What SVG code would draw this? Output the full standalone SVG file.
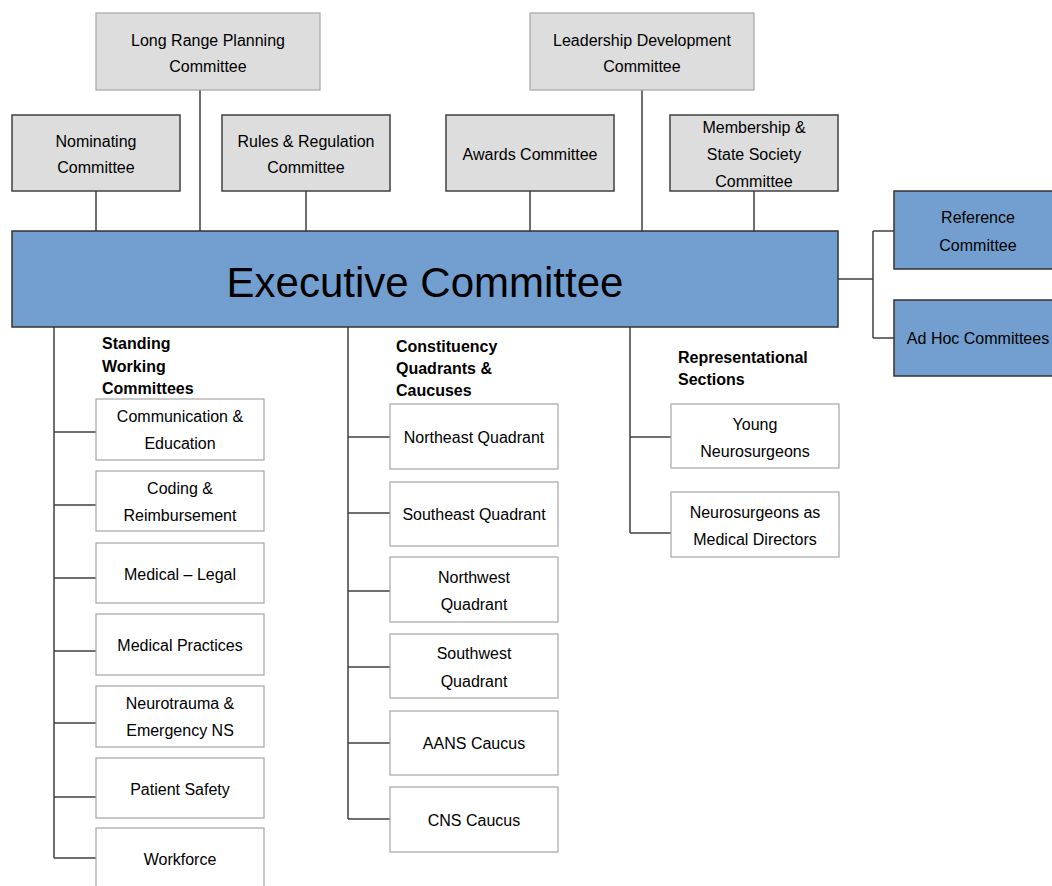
<svg xmlns="http://www.w3.org/2000/svg" width="1052" height="886" viewBox="0 0 1052 886">
<style>
text{font-family:"Liberation Sans",Arial,sans-serif;font-size:16px;fill:#000;text-anchor:middle}
.h{font-weight:bold;text-anchor:start}
.g1{fill:#dddddd;stroke:#a6a6a6;stroke-width:1.2}
.g2{fill:#dddddd;stroke:#404040;stroke-width:1.5}
.b{fill:#729fcf;stroke:#333333;stroke-width:1.5}
.w{fill:#ffffff;stroke:#a6a6a6;stroke-width:1.2}
.c{stroke:#404040;stroke-width:1.5;fill:none}
</style>
<rect width="1052" height="886" fill="#ffffff"/>
<g id="connectors">
<path class="c" d="M96 191V231M200 90V231M306 191V231M530 191V231M642 90V231M754 191V231"/>
<path class="c" d="M838 279H873M873 231V338M873 231H894M873 338H894"/>
<path class="c" d="M54 327V858M54 432H96M54 505H96M54 578H96M54 651H96M54 723H96M54 797H96M54 858H96"/>
<path class="c" d="M348 327V819M348 437H390M348 513H390M348 591H390M348 667H390M348 743H390M348 819H390"/>
<path class="c" d="M630 327V533M630 437H671M630 533H671"/>
</g>
<g id="long-range"><rect class="g1" x="96" y="13" width="224" height="77"/><text x="208" y="46">Long Range Planning</text><text x="208" y="72">Committee</text></g>
<g id="leadership"><rect class="g1" x="530" y="13" width="224" height="77"/><text x="642" y="46">Leadership Development</text><text x="642" y="72">Committee</text></g>
<g id="nominating"><rect class="g2" x="12" y="115" width="168" height="76"/><text x="96" y="147">Nominating</text><text x="96" y="173">Committee</text></g>
<g id="rules"><rect class="g2" x="222" y="115" width="168" height="76"/><text x="306" y="147">Rules &amp; Regulation</text><text x="306" y="173">Committee</text></g>
<g id="awards"><rect class="g2" x="446" y="115" width="168" height="76"/><text x="530" y="160">Awards Committee</text></g>
<g id="membership"><rect class="g2" x="670" y="115" width="168" height="76"/><text x="754" y="133">Membership &amp;</text><text x="754" y="160">State Society</text><text x="754" y="187">Committee</text></g>
<g id="executive"><rect class="b" x="12" y="231" width="826" height="96"/><text x="425" y="297" style="font-size:42px">Executive Committee</text></g>
<g id="reference"><rect class="b" x="894" y="191" width="170" height="78"/><text x="978" y="223">Reference</text><text x="978" y="251">Committee</text></g>
<g id="adhoc"><rect class="b" x="894" y="300" width="170" height="76"/><text x="978" y="344">Ad Hoc Committees</text></g>
<g id="standing-heading"><text class="h" x="102" y="349">Standing</text><text class="h" x="102" y="372">Working</text><text class="h" x="102" y="394">Committees</text></g>
<g id="communication"><rect class="w" x="96" y="399" width="168" height="61"/><text x="180" y="422">Communication &amp;</text><text x="180" y="449">Education</text></g>
<g id="coding"><rect class="w" x="96" y="471" width="168" height="60"/><text x="180" y="494">Coding &amp;</text><text x="180" y="521">Reimbursement</text></g>
<g id="medical-legal"><rect class="w" x="96" y="543" width="168" height="60"/><text x="180" y="580">Medical – Legal</text></g>
<g id="medical-practices"><rect class="w" x="96" y="614" width="168" height="61"/><text x="180" y="651">Medical Practices</text></g>
<g id="neurotrauma"><rect class="w" x="96" y="686" width="168" height="61"/><text x="180" y="709">Neurotrauma &amp;</text><text x="180" y="736">Emergency NS</text></g>
<g id="patient-safety"><rect class="w" x="96" y="758" width="168" height="60"/><text x="180" y="795">Patient Safety</text></g>
<g id="workforce"><rect class="w" x="96" y="828" width="168" height="70"/><text x="180" y="865">Workforce</text></g>
<g id="constituency-heading"><text class="h" x="396" y="352">Constituency</text><text class="h" x="396" y="374">Quadrants &amp;</text><text class="h" x="396" y="396">Caucuses</text></g>
<g id="northeast"><rect class="w" x="390" y="404" width="168" height="65"/><text x="474" y="443">Northeast Quadrant</text></g>
<g id="southeast"><rect class="w" x="390" y="482" width="168" height="64"/><text x="474" y="520">Southeast Quadrant</text></g>
<g id="northwest"><rect class="w" x="390" y="557" width="168" height="65"/><text x="474" y="583">Northwest</text><text x="474" y="610">Quadrant</text></g>
<g id="southwest"><rect class="w" x="390" y="634" width="168" height="64"/><text x="474" y="659">Southwest</text><text x="474" y="687">Quadrant</text></g>
<g id="aans"><rect class="w" x="390" y="711" width="168" height="64"/><text x="474" y="749">AANS Caucus</text></g>
<g id="cns"><rect class="w" x="390" y="787" width="168" height="65"/><text x="474" y="826">CNS Caucus</text></g>
<g id="representational-heading"><text class="h" x="678" y="363">Representational</text><text class="h" x="678" y="385">Sections</text></g>
<g id="young"><rect class="w" x="671" y="404" width="168" height="64"/><text x="755" y="430">Young</text><text x="755" y="457">Neurosurgeons</text></g>
<g id="medical-directors"><rect class="w" x="671" y="492" width="168" height="65"/><text x="755" y="518">Neurosurgeons as</text><text x="755" y="545">Medical Directors</text></g>
</svg>
